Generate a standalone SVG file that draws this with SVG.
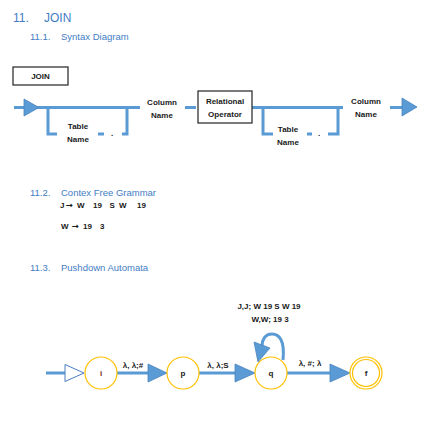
<svg xmlns="http://www.w3.org/2000/svg" width="431" height="425" viewBox="0 0 431 425">
<style>
.h{font-family:"Liberation Sans",Arial,sans-serif;fill:#3F7DC4}
.t{font-family:"Liberation Sans",Arial,sans-serif;font-weight:bold;font-size:8px;fill:#1a1a1a;text-anchor:middle}
.g{font-family:"Liberation Sans",Arial,sans-serif;font-weight:bold;font-size:8px;fill:#1a1a1a}
.ar{font-family:"DejaVu Sans",sans-serif;font-weight:bold;font-size:8.5px;fill:#1a1a1a}
.ln{stroke:#5B9BD5;stroke-width:3;fill:none}
.tri{fill:#5B9BD5;stroke:#4A84BE;stroke-width:0.8}
.st{fill:#fff;stroke:#FFC000;stroke-width:1.2}
.box{fill:#fff;stroke:#222;stroke-width:1.2}
</style>
<rect width="431" height="425" fill="#fff"/>
<g id="headings">
<text class="h" x="13" y="22" font-size="12">11.</text>
<text class="h" x="44" y="22" font-size="12">JOIN</text>
<text class="h" x="30" y="40" font-size="9.5">11.1.</text>
<text class="h" x="61" y="40" font-size="9.5">Syntax Diagram</text>
<text class="h" x="30" y="196" font-size="9.5">11.2.</text>
<text class="h" x="61" y="196" font-size="9.5">Contex Free Grammar</text>
<text class="h" x="30" y="271" font-size="9.5">11.3.</text>
<text class="h" x="61" y="271" font-size="9.5">Pushdown Automata</text>
</g>
<g id="join-box">
<rect class="box" x="13" y="67" width="55" height="18"/>
<text class="t" x="40.5" y="79" font-size="7.5">JOIN</text>
</g>
<g id="syntax-connectors">
<path class="ln" d="M14,107.5 H196 M252,107.5 H343"/>
<path class="ln" d="M48,107.5 V134 H57 M98,134 H104 M122,134 H127 V107.5"/>
<path class="ln" d="M263,107.5 V134 H273 M307,134 H312 M328,134 H338 V107.5"/>
<rect x="140" y="95" width="45" height="25" fill="#fff"/>
<path class="ln" d="M390,107.5 H403"/>
<polygon class="tri" points="24,99 39,107.5 24,116"/>
<polygon class="tri" points="402,98 417,107 402,116"/>
</g>
<g id="table-name-1">
<text class="t" x="78" y="129">Table</text>
<text class="t" x="78" y="142">Name</text>
<text class="t" x="112" y="136">.</text>
</g>
<g id="column-name-1">
<text class="t" x="162" y="105">Column</text>
<text class="t" x="162" y="118">Name</text>
</g>
<g id="relational-operator">
<rect class="box" x="198" y="91" width="54" height="32"/>
<text class="t" x="225" y="104">Relational</text>
<text class="t" x="225" y="117">Operator</text>
</g>
<g id="table-name-2">
<text class="t" x="288" y="132">Table</text>
<text class="t" x="288" y="145">Name</text>
<text class="t" x="319" y="136">.</text>
</g>
<g id="column-name-2">
<text class="t" x="366" y="104">Column</text>
<text class="t" x="366" y="117">Name</text>
</g>
<g id="grammar">
<text class="g" x="60" y="208">J</text>
<text class="ar" x="65.5" y="208">→</text>
<text class="g" x="77" y="208">W</text>
<text class="g" x="93" y="208">19</text>
<text class="g" x="109.5" y="208">S</text>
<text class="g" x="119" y="208">W</text>
<text class="g" x="137" y="208">19</text>
<text class="g" x="61" y="229">W</text>
<text class="ar" x="71.5" y="229">→</text>
<text class="g" x="83" y="229">19</text>
<text class="g" x="100" y="229">3</text>
</g>
<g id="pda-connectors">
<path class="ln" d="M46,373 H66 M117,373 H149 M199,373 H236 M287,373 H331"/>
<polygon points="65,364.5 84,373 65,381.5" fill="#fff" stroke="#4A7EC2" stroke-width="1"/>
<polygon class="tri" points="148,364 167,373 148,382"/>
<polygon class="tri" points="235,364 255,373 235,382"/>
<polygon class="tri" points="330,364 350,373 330,382"/>
<path class="ln" d="M283,360 C285,340 279,334 272,334 C265,334 262,340 262,346" stroke-width="2.6"/>
<polygon class="tri" points="254,342 270,348 258,362"/>
<text class="g" x="133" y="368" text-anchor="middle">λ, λ;#</text>
<text class="g" x="218" y="368" text-anchor="middle">λ, λ;S</text>
<text class="g" x="310" y="366" text-anchor="middle">λ, #; λ</text>
<text class="g" x="269" y="309" text-anchor="middle">J,J; W 19 S W 19</text>
<text class="g" x="270" y="322" text-anchor="middle">W,W; 19 3</text>
</g>
<g id="state-i">
<circle class="st" cx="101" cy="373" r="16"/>
<text class="t" x="101" y="376" style="fill:#7A1C1C">i</text>
</g>
<g id="state-p">
<circle class="st" cx="183" cy="373" r="16"/>
<text class="t" x="183" y="376">p</text>
</g>
<g id="state-q">
<circle class="st" cx="271" cy="373" r="16"/>
<text class="t" x="271" y="376">q</text>
</g>
<g id="state-f">
<circle class="st" cx="366" cy="373" r="16"/>
<circle class="st" cx="366" cy="373" r="13.5"/>
<text class="t" x="366" y="376">f</text>
</g>
</svg>
